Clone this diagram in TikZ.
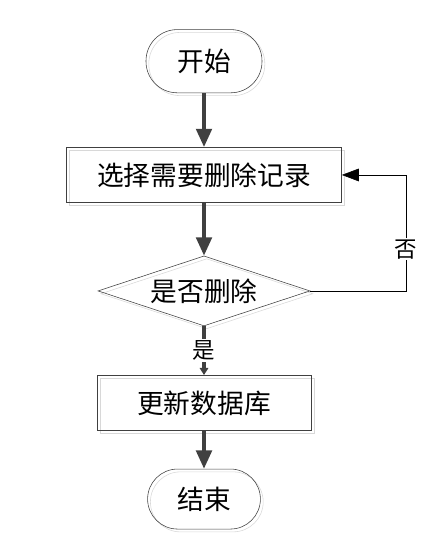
\documentclass[tikz,border=0pt]{standalone}
\usepackage{fontspec}
\usepackage{tikz}
\usetikzlibrary{shapes.geometric, arrows.meta, positioning, shadows}
\newfontfamily\cjk{Noto Sans CJK SC}
\definecolor{flowgray}{HTML}{404040}
\definecolor{shadegray}{HTML}{D8D8D8}

\begin{document}
\begin{tikzpicture}[
    font=\cjk\fontsize{19pt}{22pt}\selectfont,
    node distance=1.35cm,
    terminal/.style={rectangle, rounded corners=0.78cm, draw=flowgray, thin, minimum width=2.9cm, minimum height=1.58cm, copy shadow={shadow xshift=2pt, shadow yshift=-2pt, draw=shadegray, fill=none}},
    process/.style={rectangle, draw=flowgray, thin, minimum height=1.38cm, copy shadow={shadow xshift=2pt, shadow yshift=-2pt, draw=shadegray, fill=none}},
    decision/.style={diamond, aspect=3, draw=flowgray, thin, minimum width=5.3cm, minimum height=1.75cm, inner sep=0pt, copy shadow={shadow xshift=2pt, shadow yshift=-2pt, draw=shadegray, fill=none}},
    arrow/.style={-{Triangle[length=13pt, width=11pt]}, line width=2.6pt, draw=flowgray},
    back/.style={-{Triangle[length=12pt, width=9pt]}, thin, draw=black},
    tag/.style={fill=white, inner sep=1pt, font=\cjk\fontsize{16pt}{18pt}\selectfont}
]
\useasboundingbox (0,0) rectangle (10.75,-13.95);

% Nodes
\node[terminal] (start) at (5.1,-1.53) {开始};
\node[process, minimum width=6.88cm, below=1.35cm of start] (select) {选择需要删除记录};
\node[decision, below=1.32cm of select] (decide) {是否删除};
\node[process, minimum width=5.35cm, below=1.22cm of decide] (update) {更新数据库};
\node[terminal, minimum width=2.82cm, minimum height=1.5cm, rounded corners=0.75cm, below=0.95cm of update] (finish) {结束};
\coordinate (loopx) at (10.15,0);

% Arrows
\draw[arrow] (start) -- (select);
\draw[arrow] (select) -- (decide);
\draw[line width=2.6pt, draw=flowgray, -{Triangle[length=5pt, width=6pt]}] (decide) -- node[tag, pos=0.5] {是} (update);
\draw[arrow] (update) -- (finish);
\draw[back] (decide.east) -- (decide.east -| loopx) |- node[tag, pos=0.18] {否} (select.east);

\end{tikzpicture}
\end{document}
